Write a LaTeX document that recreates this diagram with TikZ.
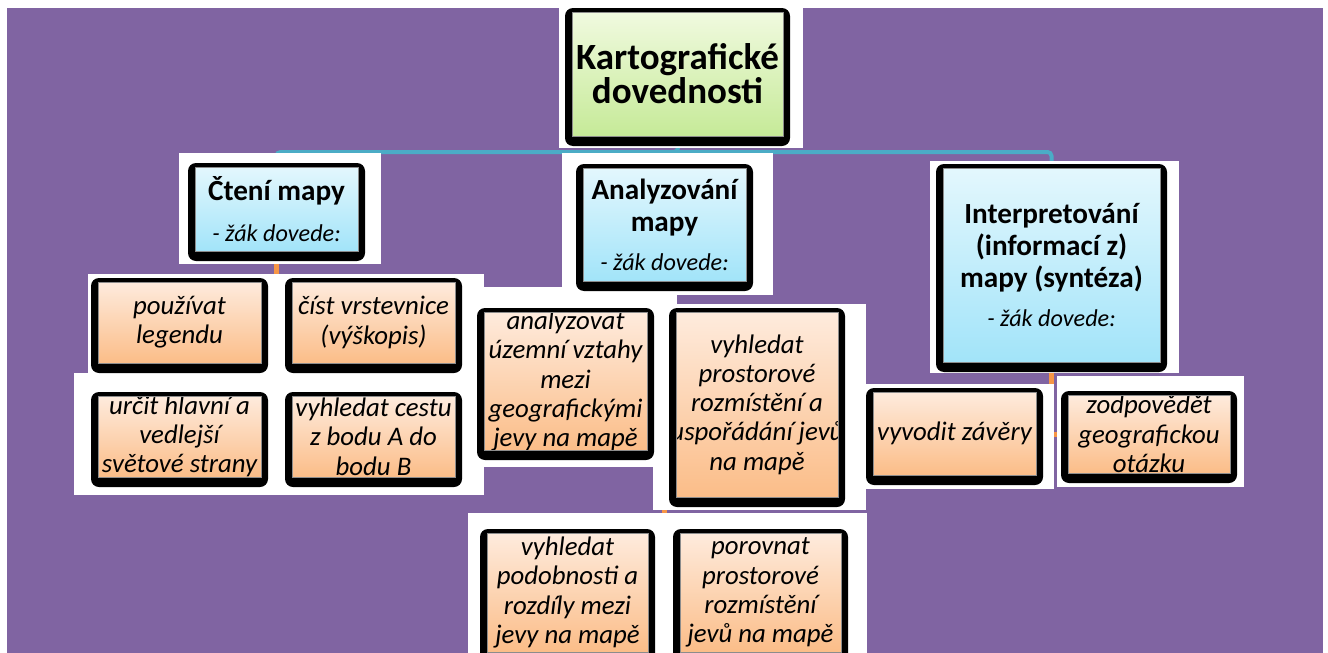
\documentclass[tikz,border=0pt]{standalone}
\usepackage{fontspec}
\setmainfont{Carlito}
\usetikzlibrary{calc}
\definecolor{purp}{HTML}{8064A2}
\definecolor{cyanline}{HTML}{4BACC6}
\definecolor{orangeline}{HTML}{F79646}
\definecolor{grtop}{HTML}{F0FADF}
\definecolor{grbot}{HTML}{C6EA98}
\definecolor{bltop}{HTML}{E3F7FD}
\definecolor{blbot}{HTML}{A2E4F9}
\definecolor{ortop}{HTML}{FEEBDD}
\definecolor{orbot}{HTML}{FBBD88}
\definecolor{rimgray}{HTML}{8C8C8C}
\pgfdeclarelayer{lback}
\pgfdeclarelayer{lconn}
\pgfdeclarelayer{lwhite}
\pgfsetlayers{lback,lconn,lwhite,main}
\tikzset{
  cconn/.style={draw=cyanline, line width=4pt, rounded corners=4pt},
  oconn/.style={draw=orangeline, line width=5pt},
  greenfill/.style={top color=grtop, bottom color=grbot},
  bluefill/.style={top color=bltop, bottom color=blbot},
  orangefill/.style={top color=ortop, bottom color=orbot},
  roottxt/.style={align=center, inner sep=0pt, font=\fontsize{37}{34}\selectfont\bfseries},
  headtxt/.style={align=center, inner sep=0pt, font=\fontsize{29.2}{32}\selectfont\bfseries},
  leaftxt/.style={align=center, inner sep=0pt, font=\fontsize{26.8}{29.3}\selectfont\itshape},
  whitebg/.style={fill=white},
}
\newcommand{\subline}{\fontsize{24.2}{27}\selectfont\mdseries\itshape}
% name, x1, y1, x2, y2, fill style, text style, text
\newcommand{\kbox}[8]{%
  \fill[black, rounded corners=8pt] (#2,#3) rectangle (#4,#5);
  \begin{scope}
    \clip (#2+7,#3+4) rectangle (#4-7,#5-10);
    \shade[#6] (#2+7,#3+4) rectangle (#4-7,#5-10);
    \node[#7] (#1) at ({(#2+#4)/2},{(#3+#5-6)/2}) {#8};
  \end{scope}
  \draw[rimgray, line width=0.8pt] (#2+7,#3+4) rectangle (#4-7,#5-10);
}
\begin{document}
\begin{tikzpicture}[x=1pt,y=-1pt]
\useasboundingbox (0,0) rectangle (1328,653);
\begin{pgfonlayer}{lback}
  \fill[white] (0,0) rectangle (1328,653);
  \fill[purp] (7,8) rectangle (1323,653);
\end{pgfonlayer}
\begin{pgfonlayer}{lwhite}
  \fill[whitebg] (559,8) rectangle (803,148);
  \fill[whitebg] (179,153) rectangle (381,264);
  \fill[whitebg] (88,274) rectangle (484,373);
  \fill[whitebg] (74,373) rectangle (484,495);
  \fill[whitebg] (562,153) rectangle (773,295);
  \fill[whitebg] (470,287) rectangle (677,467);
  \fill[whitebg] (653,304) rectangle (866,510);
  \fill[whitebg] (468,513) rectangle (867,653);
  \fill[whitebg] (930,161) rectangle (1179,373);
  \fill[whitebg] (866,384) rectangle (1054,489);
  \fill[whitebg] (1057,376) rectangle (1244,487);
\end{pgfonlayer}

% root
\kbox{root}{565}{8}{790}{146}{greenfill}{roottxt}{Kartografické\\dovednosti}
% level 2
\kbox{ct}{188}{163}{365}{261}{bluefill}{headtxt}{Čtení mapy\\[9pt]{\subline - žák dovede:}}
\kbox{an}{576}{164}{753}{291}{bluefill}{headtxt}{Analyzování\\mapy\\[7pt]{\subline - žák dovede:}}
\kbox{ip}{936}{164}{1167}{372}{bluefill}{headtxt}{Interpretování\\(informací z)\\mapy (syntéza)\\[7pt]{\subline - žák dovede:}}
% leaves of Čtení mapy
\kbox{l1}{91}{278}{268}{373}{orangefill}{leaftxt}{používat\\legendu}
\kbox{l2}{285}{278}{462}{373}{orangefill}{leaftxt}{číst vrstevnice\\(výškopis)}
\kbox{l3}{91}{392}{268}{487}{orangefill}{leaftxt}{určit hlavní a\\vedlejší\\světové strany}
\kbox{l4}{285}{392}{462}{487}{orangefill}{leaftxt}{vyhledat cestu\\z bodu A do\\bodu B}
% leaves of Analyzování mapy
\kbox{a1}{477}{308}{654}{460}{orangefill}{leaftxt}{analyzovat\\územní vztahy\\mezi\\geografickými\\jevy na mapě}
\kbox{a2}{669}{308}{845}{507}{orangefill}{leaftxt}{vyhledat\\prostorové\\rozmístění a\\uspořádání jevů\\na mapě}
\kbox{a3}{480}{529}{655}{662}{orangefill}{leaftxt}{vyhledat\\podobnosti a\\rozdíly mezi\\jevy na mapě}
\kbox{a4}{673}{529}{848}{662}{orangefill}{leaftxt}{porovnat\\prostorové\\rozmístění\\jevů na mapě}
% leaves of Interpretování
\kbox{i1}{866}{388}{1043}{485}{orangefill}{leaftxt}{vyvodit závěry}
\kbox{i2}{1061}{391}{1237}{483}{orangefill}{leaftxt}{zodpovědět\\geografickou\\otázku}

\begin{pgfonlayer}{lconn}
  \coordinate (hub) at (678,152);
  \draw[cconn] (root) -- (hub) -| (ct);
  \draw[cconn] (hub) -| (an);
  \draw[cconn] (hub) -| (ip);
  \draw[oconn] (ct) |- (l1);
  \draw[oconn] (ct) |- (l2);
  \draw[oconn] (ct) |- (l3);
  \draw[oconn] (ct) |- (l4);
  \draw[oconn] (an) |- (a1);
  \draw[oconn] (an) |- (a2);
  \draw[oconn] (an) |- (a3);
  \draw[oconn] (an) |- (a4);
  \draw[oconn] (ip) |- (i1);
  \draw[oconn] (ip) |- (i2);
\end{pgfonlayer}
\end{tikzpicture}
\end{document}
